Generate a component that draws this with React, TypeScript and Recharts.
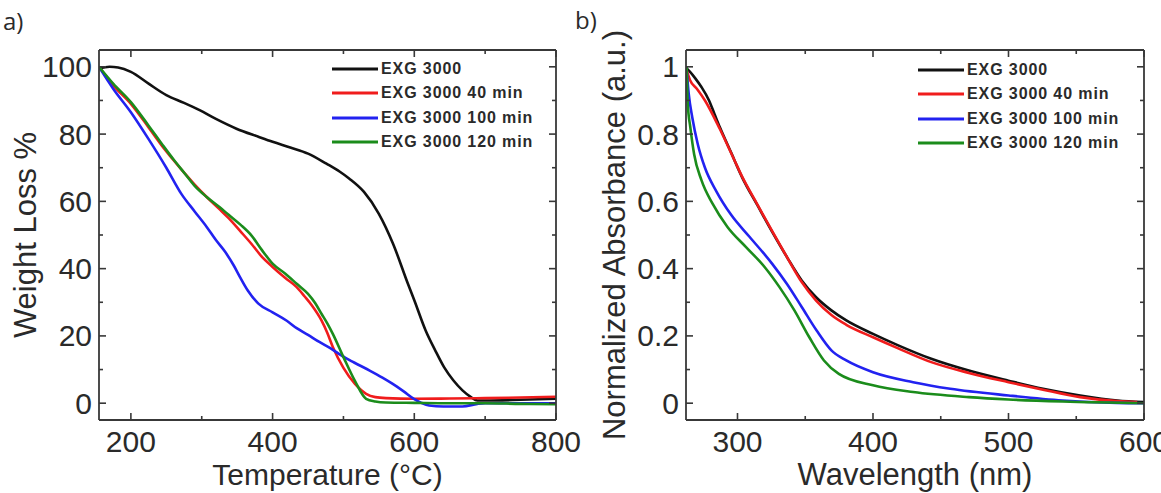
import React from 'react';
import { LineChart, Line, XAxis, YAxis, Legend, Label } from 'recharts';

// ---------- Panel a) TGA data ----------
const tgaTempBlack = [155, 170, 182, 200, 225, 250, 275, 297, 320, 349, 380, 400, 425, 450, 476, 495, 508, 529, 550, 570, 591, 600, 616, 630, 642, 655, 668, 680, 689, 700, 750, 800];
const tgaWeightBlack = [99.5, 100, 99.8, 98.5, 95.0, 91.6, 89.3, 87.1, 84.5, 81.6, 79.2, 77.7, 76.0, 74.2, 71.2, 68.8, 66.8, 62.8, 56.3, 47.4, 35.5, 30.6, 21.6, 15.5, 10.7, 6.8, 3.8, 1.8, 0.8, 0.8, 1.0, 1.3];

const tgaTempRed = [155, 175, 200, 225, 244, 260, 276, 290, 307, 325, 338, 355, 370, 385, 400, 418, 434, 445, 455, 469, 477, 485, 500, 516, 532, 545, 560, 600, 650, 700, 750, 800];
const tgaWeightRed = [100, 94.5, 89, 82, 76.5, 72.3, 68.3, 65, 61.3, 57.7, 55, 51, 47.4, 43.5, 40.5, 37.2, 34.5, 31.8, 29.2, 24.6, 21, 16.7, 10.5, 5.8, 2.8, 1.8, 1.5, 1.3, 1.4, 1.5, 1.7, 1.9];

const tgaTempBlue = [155, 175, 200, 225, 250, 271, 290, 307, 320, 333, 345, 354, 365, 380, 400, 420, 434, 450, 466, 482, 497, 515, 537, 555, 569, 585, 600, 610, 621, 641, 668, 689, 700, 750, 800];
const tgaWeightBlue = [100, 93.5, 86.5, 78.5, 70, 62.3, 57, 52.4, 48.5, 45, 41, 37.5, 33.5, 29.6, 27, 24.5, 22.3, 20.3, 18.2, 16.3, 14.2, 12.1, 9.7, 7.6, 5.8, 3.5, 1.2, 0.1, -0.7, -1.0, -1.0, -0.2, 0, 0, 0];

const tgaTempGreen = [155, 175, 200, 225, 244, 260, 276, 290, 307, 325, 338, 355, 370, 385, 400, 418, 434, 450, 460, 469, 477, 485, 500, 516, 532, 545, 560, 600, 650, 700, 750, 800];
const tgaWeightGreen = [100, 95, 89.5, 82.5, 77, 72.5, 68.3, 64.6, 61.3, 58.3, 56, 53, 49.9, 45.5, 41.5, 38.5, 35.5, 32.5, 29.8, 26.6, 23.8, 20.6, 13.7, 6.7, 1.3, 0.5, 0.2, 0.1, 0, 0, -0.2, -0.3];

const tgaXTicks = [200, 300, 400, 500, 600, 700, 800];
const tgaXMajor = [200, 400, 600, 800];
const tgaYTicks = [0, 10, 20, 30, 40, 50, 60, 70, 80, 90, 100];
const tgaYMajor = [0, 20, 40, 60, 80, 100];

// ---------- Panel b) absorbance data ----------
const absWlBlack = [262.5, 265, 269, 273.4, 279, 283, 287, 295.3, 303.6, 314.5, 325.5, 336.4, 347.4, 358, 369.3, 380.3, 400, 418.6, 443, 470.7, 500, 525.5, 552.9, 580.3, 600];
const absBlack = [0.995, 0.985, 0.965, 0.94, 0.9, 0.86, 0.82, 0.745, 0.67, 0.59, 0.51, 0.435, 0.365, 0.315, 0.276, 0.246, 0.206, 0.172, 0.132, 0.097, 0.067, 0.043, 0.023, 0.008, 0.003];

const absWlRed = [262.5, 265, 270, 276, 287, 298, 303.6, 314.5, 325.5, 336.4, 347.4, 358, 369.3, 380.3, 400, 418.6, 443, 470.7, 500, 525.5, 552.9, 580, 595];
const absRed = [0.99, 0.96, 0.935, 0.9, 0.815, 0.72, 0.672, 0.592, 0.512, 0.435, 0.36, 0.305, 0.262, 0.233, 0.196, 0.163, 0.122, 0.09, 0.0625, 0.04, 0.018, 0.006, 0.003];

const absWlBlue = [262.5, 264, 266.6, 270.7, 276, 284.4, 295.3, 309, 325.5, 336.4, 347.4, 358.4, 369.3, 380.3, 400, 429.6, 457, 500, 540, 580, 600];
const absBlue = [0.99, 0.92, 0.85, 0.77, 0.7, 0.63, 0.56, 0.494, 0.415, 0.355, 0.286, 0.216, 0.157, 0.127, 0.092, 0.0625, 0.043, 0.023, 0.008, 0.001, 0];

const absWlGreen = [262.5, 263.3, 265.2, 268, 273.4, 281.6, 292.6, 306.3, 320, 331, 342, 353, 363.8, 374.8, 400, 429.6, 470.7, 500, 540, 600];
const absGreen = [1.0, 0.89, 0.82, 0.74, 0.663, 0.593, 0.524, 0.464, 0.405, 0.345, 0.276, 0.196, 0.127, 0.087, 0.053, 0.033, 0.018, 0.011, 0.005, 0];

const absXTicks = [300, 350, 400, 450, 500, 550, 600];
const absXMajor = [300, 400, 500, 600];
const absYTicks = [0, 0.1, 0.2, 0.3, 0.4, 0.5, 0.6, 0.7, 0.8, 0.9, 1];
const absYMajor = [0, 0.2, 0.4, 0.6, 0.8, 1];

const seriesNames = ['EXG 3000', 'EXG 3000 40 min', 'EXG 3000 100 min', 'EXG 3000 120 min'];
const seriesColors = ['#111111', '#f01c1c', '#2222f0', '#1b8c1b'];

const zip = (xs: number[], ys: number[]) => xs.map((x, i) => ({ x, y: ys[i] }));

const FONT = '"Liberation Sans", Arial, Helvetica, sans-serif';
const FRAME = '#383838';
const TEXT = '#2a2a2a';

const isMajor = (v: number, majors: number[]) => majors.some((m) => Math.abs(m - v) < 1e-9);

const BottomTick = (props: any) => {
  const { x, y, payload, majors } = props;
  const major = isMajor(payload.value, majors);
  return (
    <g>
      <line x1={x} x2={x} y1={y} y2={y - (major ? 7 : 4)} stroke={FRAME} strokeWidth={1.6} />
      {major && (
        <text x={x} y={y + 32} textAnchor="middle" fontSize={30} fontFamily={FONT} fill={TEXT}>
          {String(payload.value)}
        </text>
      )}
    </g>
  );
};

const TopTick = (props: any) => {
  const { x, y, payload, majors } = props;
  const major = isMajor(payload.value, majors);
  return <line x1={x} x2={x} y1={y} y2={y + (major ? 7 : 4)} stroke={FRAME} strokeWidth={1.6} />;
};

const LeftTick = (props: any) => {
  const { x, y, payload, majors } = props;
  const major = isMajor(payload.value, majors);
  return (
    <g>
      <line x1={x} x2={x + (major ? 7 : 4)} y1={y} y2={y} stroke={FRAME} strokeWidth={1.6} />
      {major && (
        <text x={x - 7} y={y + 10.5} textAnchor="end" fontSize={30} fontFamily={FONT} fill={TEXT}>
          {String(Math.round(payload.value * 10) / 10)}
        </text>
      )}
    </g>
  );
};

const RightTick = (props: any) => {
  const { x, y, payload, majors } = props;
  const major = isMajor(payload.value, majors);
  return <line x1={x} x2={x - (major ? 7 : 4)} y1={y} y2={y} stroke={FRAME} strokeWidth={1.6} />;
};

const renderLegend = (props: any) => {
  const payload = [...(props.payload || [])].sort(
    (a: any, b: any) => seriesNames.indexOf(a.value) - seriesNames.indexOf(b.value)
  );
  return (
    <div style={{ fontFamily: FONT, fontWeight: 700, fontSize: 16, letterSpacing: '0.9px', color: TEXT }}>
      {payload.map((p: any) => (
        <div key={p.value} style={{ display: 'flex', alignItems: 'center', height: 24.3 }}>
          <svg width={46} height={6} style={{ display: 'block' }}>
            <line x1={0} x2={46} y1={3} y2={3} stroke={p.color} strokeWidth={3} />
          </svg>
          <span style={{ marginLeft: 3, whiteSpace: 'nowrap', lineHeight: '18px' }}>{p.value}</span>
        </div>
      ))}
    </div>
  );
};

type PanelProps = {
  width: number;
  margin: { top: number; right: number; bottom: number; left: number };
  xDomain: [number, number];
  yDomain: [number, number];
  xTicks: number[];
  xMajor: number[];
  yTicks: number[];
  yMajor: number[];
  series: { x: number; y: number }[][];
  xTitle: string;
  xTitleSize: number;
  yTitle: string;
  yTitleSize: number;
  yTitleGap: number;
  legendLeft: number;
  legendTop: number;
};

const Panel = (p: PanelProps) => (
  <LineChart width={p.width} height={493} margin={p.margin}>
    <XAxis
      xAxisId="b"
      type="number"
      dataKey="x"
      orientation="bottom"
      domain={p.xDomain}
      allowDataOverflow
      ticks={p.xTicks}
      interval={0}
      height={30}
      tickSize={0}
      tickMargin={0}
      tickLine={false}
      axisLine={{ stroke: FRAME, strokeWidth: 1.8 }}
      tick={(tp: any) => <BottomTick {...tp} majors={p.xMajor} />}
    >
      <Label
        content={(lp: any) => {
          const vb = lp.viewBox || {};
          return (
            <text x={vb.x + vb.width / 2} y={vb.y + 65} textAnchor="middle" fontSize={p.xTitleSize} fontFamily={FONT} fill={TEXT}>
              {p.xTitle}
            </text>
          );
        }}
      />
    </XAxis>
    <XAxis
      xAxisId="t"
      type="number"
      dataKey="x"
      orientation="top"
      domain={p.xDomain}
      allowDataOverflow
      ticks={p.xTicks}
      interval={0}
      height={1}
      tickSize={0}
      tickMargin={0}
      tickLine={false}
      axisLine={{ stroke: FRAME, strokeWidth: 1.8 }}
      tick={(tp: any) => <TopTick {...tp} majors={p.xMajor} />}
    />
    <YAxis
      yAxisId="l"
      type="number"
      orientation="left"
      domain={p.yDomain}
      allowDataOverflow
      ticks={p.yTicks}
      interval={0}
      width={40}
      tickSize={0}
      tickMargin={0}
      tickLine={false}
      axisLine={{ stroke: FRAME, strokeWidth: 1.8 }}
      tick={(tp: any) => <LeftTick {...tp} majors={p.yMajor} />}
    >
      <Label
        content={(lp: any) => {
          const vb = lp.viewBox || {};
          const tx = vb.x + vb.width - p.yTitleGap;
          const ty = vb.y + vb.height / 2;
          return (
            <text x={tx} y={ty} transform={`rotate(-90, ${tx}, ${ty})`} textAnchor="middle" fontSize={p.yTitleSize} fontFamily={FONT} fill={TEXT}>
              {p.yTitle}
            </text>
          );
        }}
      />
    </YAxis>
    <YAxis
      yAxisId="r"
      type="number"
      orientation="right"
      domain={p.yDomain}
      allowDataOverflow
      ticks={p.yTicks}
      interval={0}
      width={1}
      tickSize={0}
      tickMargin={0}
      tickLine={false}
      axisLine={{ stroke: FRAME, strokeWidth: 1.8 }}
      tick={(tp: any) => <RightTick {...tp} majors={p.yMajor} />}
    />
    {p.series.map((d, i) => (
      <Line
        key={seriesNames[i]}
        name={seriesNames[i]}
        data={d}
        dataKey="y"
        xAxisId="b"
        yAxisId="l"
        type="monotone"
        stroke={seriesColors[i]}
        strokeWidth={2.6}
        dot={false}
        activeDot={false}
        isAnimationActive={false}
      />
    ))}
    <Legend
      layout="vertical"
      align="center"
      verticalAlign="middle"
      content={renderLegend}
      wrapperStyle={{ left: p.legendLeft, top: p.legendTop, width: 'auto' }}
    />
  </LineChart>
);

export default function App() {
  const tgaSeries = [
    zip(tgaTempBlack, tgaWeightBlack),
    zip(tgaTempRed, tgaWeightRed),
    zip(tgaTempBlue, tgaWeightBlue),
    zip(tgaTempGreen, tgaWeightGreen),
  ];
  const absSeries = [
    zip(absWlBlack, absBlack),
    zip(absWlRed, absRed),
    zip(absWlBlue, absBlue),
    zip(absWlGreen, absGreen),
  ];
  return (
    <div style={{ position: 'absolute', left: 0, top: 0, width: 1161, height: 493, background: '#ffffff', overflow: 'hidden' }}>
      <div style={{ position: 'absolute', left: 0, top: 0 }}>
        <Panel
          width={600}
          margin={{ top: 49, right: 43, bottom: 43, left: 59 }}
          xDomain={[155, 800]}
          yDomain={[-5, 105]}
          xTicks={tgaXTicks}
          xMajor={tgaXMajor}
          yTicks={tgaYTicks}
          yMajor={tgaYMajor}
          series={tgaSeries}
          xTitle="Temperature (°C)"
          xTitleSize={30}
          yTitle="Weight Loss %"
          yTitleSize={31}
          yTitleGap={63}
          legendLeft={332}
          legendTop={57}
        />
      </div>
      <div style={{ position: 'absolute', left: 580, top: 0 }}>
        <Panel
          width={581}
          margin={{ top: 49, right: 16, bottom: 43, left: 66 }}
          xDomain={[262, 600]}
          yDomain={[-0.05, 1.05]}
          xTicks={absXTicks}
          xMajor={absXMajor}
          yTicks={absYTicks}
          yMajor={absYMajor}
          series={absSeries}
          xTitle="Wavelength (nm)"
          xTitleSize={31}
          yTitle="Normalized Absorbance (a.u.)"
          yTitleSize={31}
          yTitleGap={61}
          legendLeft={338}
          legendTop={58}
        />
      </div>
      <svg width={1161} height={40} style={{ position: 'absolute', left: 0, top: 0, pointerEvents: 'none' }}>
        <text x={3} y={30} fontSize={24} fontFamily='"Open Sans", "Liberation Sans", sans-serif' fill={TEXT}>a)</text>
        <text x={575} y={29} fontSize={24} fontFamily='"Open Sans", "Liberation Sans", sans-serif' fill={TEXT}>b)</text>
      </svg>
    </div>
  );
}
